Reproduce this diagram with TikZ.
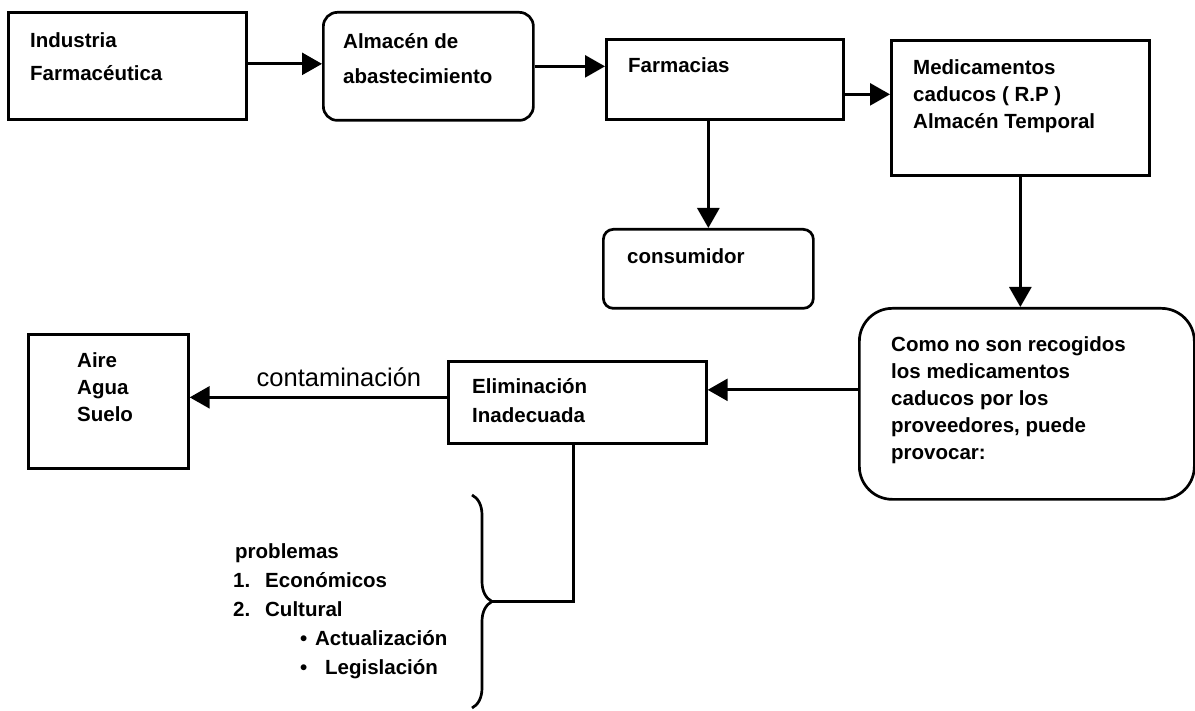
\documentclass[tikz,border=0pt]{standalone}
\usepackage{fontspec}
\setmainfont{Liberation Sans}
\usetikzlibrary{arrows.meta,decorations.pathreplacing}

\newcommand\boxfont{\fontsize{20.5}{27}\selectfont\bfseries}
\tikzset{
    box/.style={draw,line width=2.7pt,inner sep=0pt,anchor=north west},
    boxtext/.style={anchor=north west,inner sep=0pt,align=left,font=\boxfont},
    flow/.style={line width=2.7pt,-{Triangle[length=20pt,width=22pt]}},
}

\begin{document}
\begin{tikzpicture}[x=1pt,y=-1pt]
\useasboundingbox (0,0) rectangle (1195,711);
\path
    (7,11) node [box,minimum width=238pt,minimum height=107pt] (industria) {}
    (322,11) node [box,rounded corners=14pt,minimum width=210pt,minimum height=108pt] (almacen) {}
    (605,38) node [box,minimum width=237pt,minimum height=80pt] (farmacias) {}
    (890,39) node [box,minimum width=258pt,minimum height=135pt] (caducos) {}
    (602,228) node [box,rounded corners=10pt,minimum width=210pt,minimum height=79pt] (consumidor) {}
    (858,307) node [box,rounded corners=33pt,minimum width=335pt,minimum height=191pt] (recogida) {}
    (447,360) node [box,minimum width=258pt,minimum height=82pt] (eliminacion) {}
    (27,333) node [box,minimum width=160pt,minimum height=134pt] (medio) {};
\path
    [boxtext]
    (industria.north west) +(23,21) node (industriatxt) {Industria\\[6pt] Farmacéutica}
    (almacen.north west) +(21,22) node (almacentxt) {Almacén de\\[8pt] abastecimiento}
    (farmacias.north west) +(23,19) node (farmaciastxt) {Farmacias}
    (caducos.north west) +(23,20) node (caducostxt)
	{Medicamentos\\ caducos ( R.P )\\ Almacén Temporal}
    (consumidor.north west) +(25,20) node (consumidortxt) {consumidor}
    (recogida.north west) +(33,29) node (recogidatxt)
	{Como no son recogidos\\ los medicamentos\\ caducos por los\\ proveedores, puede\\ provocar:}
    (eliminacion.north west) +(25,18) node (eliminaciontxt) {Eliminación\\[2pt] Inadecuada}
    (medio.north west) +(50,19) node (mediotxt) {Aire\\ Agua\\ Suelo};
\draw [flow] ([yshift=2pt]industria.east) -- ([yshift=2pt]industria.east -| almacen.west);
\draw [flow] (almacen.east) -- (almacen.east -| farmacias.west);
\draw [flow] ([yshift=-15pt]farmacias.east) -- ([yshift=-15pt]farmacias.east -| caducos.west);
\draw [flow] (farmacias.south -| consumidor.north) -- (consumidor.north);
\draw [flow] (caducos.south) -- (caducos.south |- recogida.north);
\draw [flow] ([yshift=14pt]recogida.west) -- ([yshift=14pt]recogida.west -| eliminacion.east);
\draw [flow] ([yshift=5pt]eliminacion.west) -- ([yshift=5pt]eliminacion.west -| medio.east)
    node [pos=.42,above=9pt,inner sep=0pt,font=\fontsize{25.5}{30}\selectfont] (contaminacion) {contaminación};
\draw
    [line width=2.7pt,decorate,decoration={brace,amplitude=20pt}]
    (472,495) -- (472,708);
\coordinate (tip) at (492,601.5);
\draw [line width=2.7pt] ([xshift=-4pt]eliminacion.south) |- (tip);
\path
    (233,543.3) node [boxtext] (problemas)
	{\hspace*{2pt}problemas\\[2pt]
	\makebox[32pt][l]{1.}Económicos\\[2pt]
	\makebox[32pt][l]{2.}Cultural\\[2pt]
	\hspace*{67pt}\makebox[15pt][l]{\textbullet}Actualización\\[2pt]
	\hspace*{67pt}\makebox[25pt][l]{\textbullet}Legislación};
\end{tikzpicture}
\end{document}
